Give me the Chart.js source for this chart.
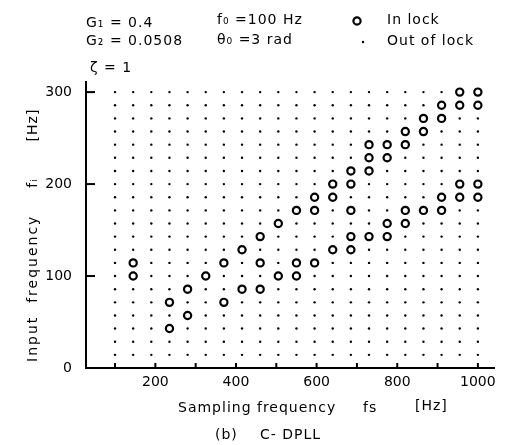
<!DOCTYPE html>
<html><head><meta charset="utf-8">
<script src="https://cdn.jsdelivr.net/npm/chart.js@4.4.1/dist/chart.umd.min.js"></script>
<style>html,body{margin:0;padding:0;background:#fff}#wrap{width:507px;height:445px;position:relative}</style>
</head><body><div id="wrap"><canvas id="c" width="507" height="445"></canvas></div>
<script>
// Grid of tested sampling frequencies fs [Hz] (columns) and input frequencies fi [Hz] (rows)
const samplingFreqs = [100,145,190,235,280,325,370,415,460,505,550,595,640,685,730,775,820,865,910,955,1000];
const inputFreqs = [14.3,28.6,42.9,57.1,71.4,85.7,100,114.3,128.6,142.9,157.1,171.4,185.7,200,214.3,228.6,242.9,257.1,271.4,285.7,300];
// In-lock points (parallel arrays)
const lockFs = [145,145, 235,235, 280,280, 325, 370,370, 415,415, 460,460,460, 505,505, 550,550,550, 595,595,595, 640,640,640, 685,685,685,685,685, 730,730,730,730, 775,775,775,775, 820,820,820,820, 865,865,865, 910,910,910,910, 955,955,955,955, 1000,1000,1000,1000];
const lockFi = [100,114.3, 42.9,71.4, 57.1,85.7, 100, 71.4,114.3, 85.7,128.6, 85.7,114.3,142.9, 100,157.1, 100,114.3,171.4, 114.3,171.4,185.7, 128.6,185.7,200, 128.6,142.9,171.4,200,214.3, 142.9,214.3,228.6,242.9, 142.9,157.1,228.6,242.9, 157.1,171.4,242.9,257.1, 171.4,257.1,271.4, 171.4,185.7,271.4,285.7, 185.7,200,285.7,300, 185.7,200,285.7,300];
const xTickValues = [100,200,300,400,500,600,700,800,900,1000];
const yTickValues = [0,100,200,300];

const lockPoints = lockFs.map((fs,i)=>({x:fs,y:lockFi[i]}));
const lockKey = new Set(lockPoints.map(p=>p.x+'_'+p.y));
const outPoints = [];
samplingFreqs.forEach(fs=>inputFreqs.forEach(fi=>{ if(!lockKey.has(fs+'_'+fi)) outPoints.push({x:fs,y:fi}); }));

const FONT = 'DejaVu Sans';
const annot = {
  id:'annot',
  afterDraw(chart){
    const ctx = chart.ctx, xs = chart.scales.x, ys = chart.scales.y;
    ctx.save();
    ctx.strokeStyle = '#000'; ctx.lineWidth = 2;
    // inward tick marks
    xTickValues.forEach(v=>{ const px = xs.getPixelForValue(v); ctx.beginPath(); ctx.moveTo(px, ys.bottom); ctx.lineTo(px, ys.bottom-5); ctx.stroke(); });
    yTickValues.forEach(v=>{ if(v===0) return; const py = ys.getPixelForValue(v); ctx.beginPath(); ctx.moveTo(xs.left, py); ctx.lineTo(xs.left+9, py); ctx.stroke(); });
    ctx.fillStyle = '#000';
    ctx.textBaseline = 'middle';
    ctx.letterSpacing = '1px';
    ctx.font = '14px "'+FONT+'"';
    ctx.textAlign = 'left';
    // header parameters
    ctx.fillText('G\u2081 = 0.4', 86, 23);
    ctx.fillText('G\u2082 = 0.0508', 86, 41);
    ctx.fillText('\u03B6 = 1', 90, 68);
    ctx.fillText('f\u2080 =100 Hz', 217, 20);
    ctx.fillText('\u03B8\u2080 =3 rad', 217, 40);
    // legend
    ctx.fillText('In lock', 387, 20);
    ctx.fillText('Out of lock', 387, 41);
    ctx.beginPath(); ctx.arc(357, 21, 3.6, 0, Math.PI*2); ctx.lineWidth = 2.2; ctx.stroke();
    ctx.beginPath(); ctx.arc(363, 42, 1.2, 0, Math.PI*2); ctx.fill();
    // x axis title
    ctx.fillText('Sampling frequency', 178, 408);
    ctx.fillText('fs', 363, 408);
    ctx.fillText('[Hz]', 415, 406);
    // caption
    ctx.fillText('(b)', 215, 435);
    ctx.fillText('C- DPLL', 260, 435);
    // y axis title (rotated)
    ctx.translate(33, 0);
    ctx.rotate(-Math.PI/2);
    ctx.letterSpacing = '2px';
    ctx.textAlign = 'left';
    ctx.fillText('Input  frequency', -362, 0);
    ctx.letterSpacing = '1px';
    ctx.textAlign = 'center';
    ctx.fillText('f\u1D62', -183, 0);
    ctx.fillText('[Hz]', -125, 0);
    ctx.restore();
  }
};

new Chart(document.getElementById('c'), {
  type:'scatter',
  data:{ datasets:[
    { label:'Out of lock', data: outPoints, pointStyle:'circle', pointRadius:1.2, backgroundColor:'#000', borderWidth:0, pointHoverRadius:1.2 },
    { label:'In lock', data: lockPoints, pointStyle:'circle', pointRadius:3.6, backgroundColor:'#fff', borderColor:'#000', borderWidth:2.2, pointHoverRadius:3.6 }
  ]},
  options:{
    responsive:false, devicePixelRatio:1, animation:false,
    events:[],
    layout:{ padding:{ top:82, right:13, left:0, bottom:0 } },
    plugins:{ legend:{display:false}, tooltip:{enabled:false}, title:{display:false} },
    scales:{
      x:{ type:'linear', min:28, max:1040,
        afterBuildTicks(s){ s.ticks = xTickValues.map(v=>({value:v})); },
        afterFit(s){ s.height = 77; },
        grid:{ display:false, drawTicks:false },
        border:{ display:true, color:'#000', width:2 },
        ticks:{ padding:6, color:'#000', font:{ family:FONT, size:14 }, maxRotation:0, autoSkip:false,
          callback:(v)=> (v%200===0 ? String(v) : '') }
      },
      y:{ type:'linear', min:0, max:311,
        afterBuildTicks(s){ s.ticks = yTickValues.map(v=>({value:v})); },
        afterFit(s){ s.width = 86; },
        grid:{ display:false, drawTicks:false },
        border:{ display:true, color:'#000', width:2 },
        ticks:{ padding:14, color:'#000', font:{ family:FONT, size:14 }, autoSkip:false }
      }
    }
  },
  plugins:[annot]
});
</script></body></html>
